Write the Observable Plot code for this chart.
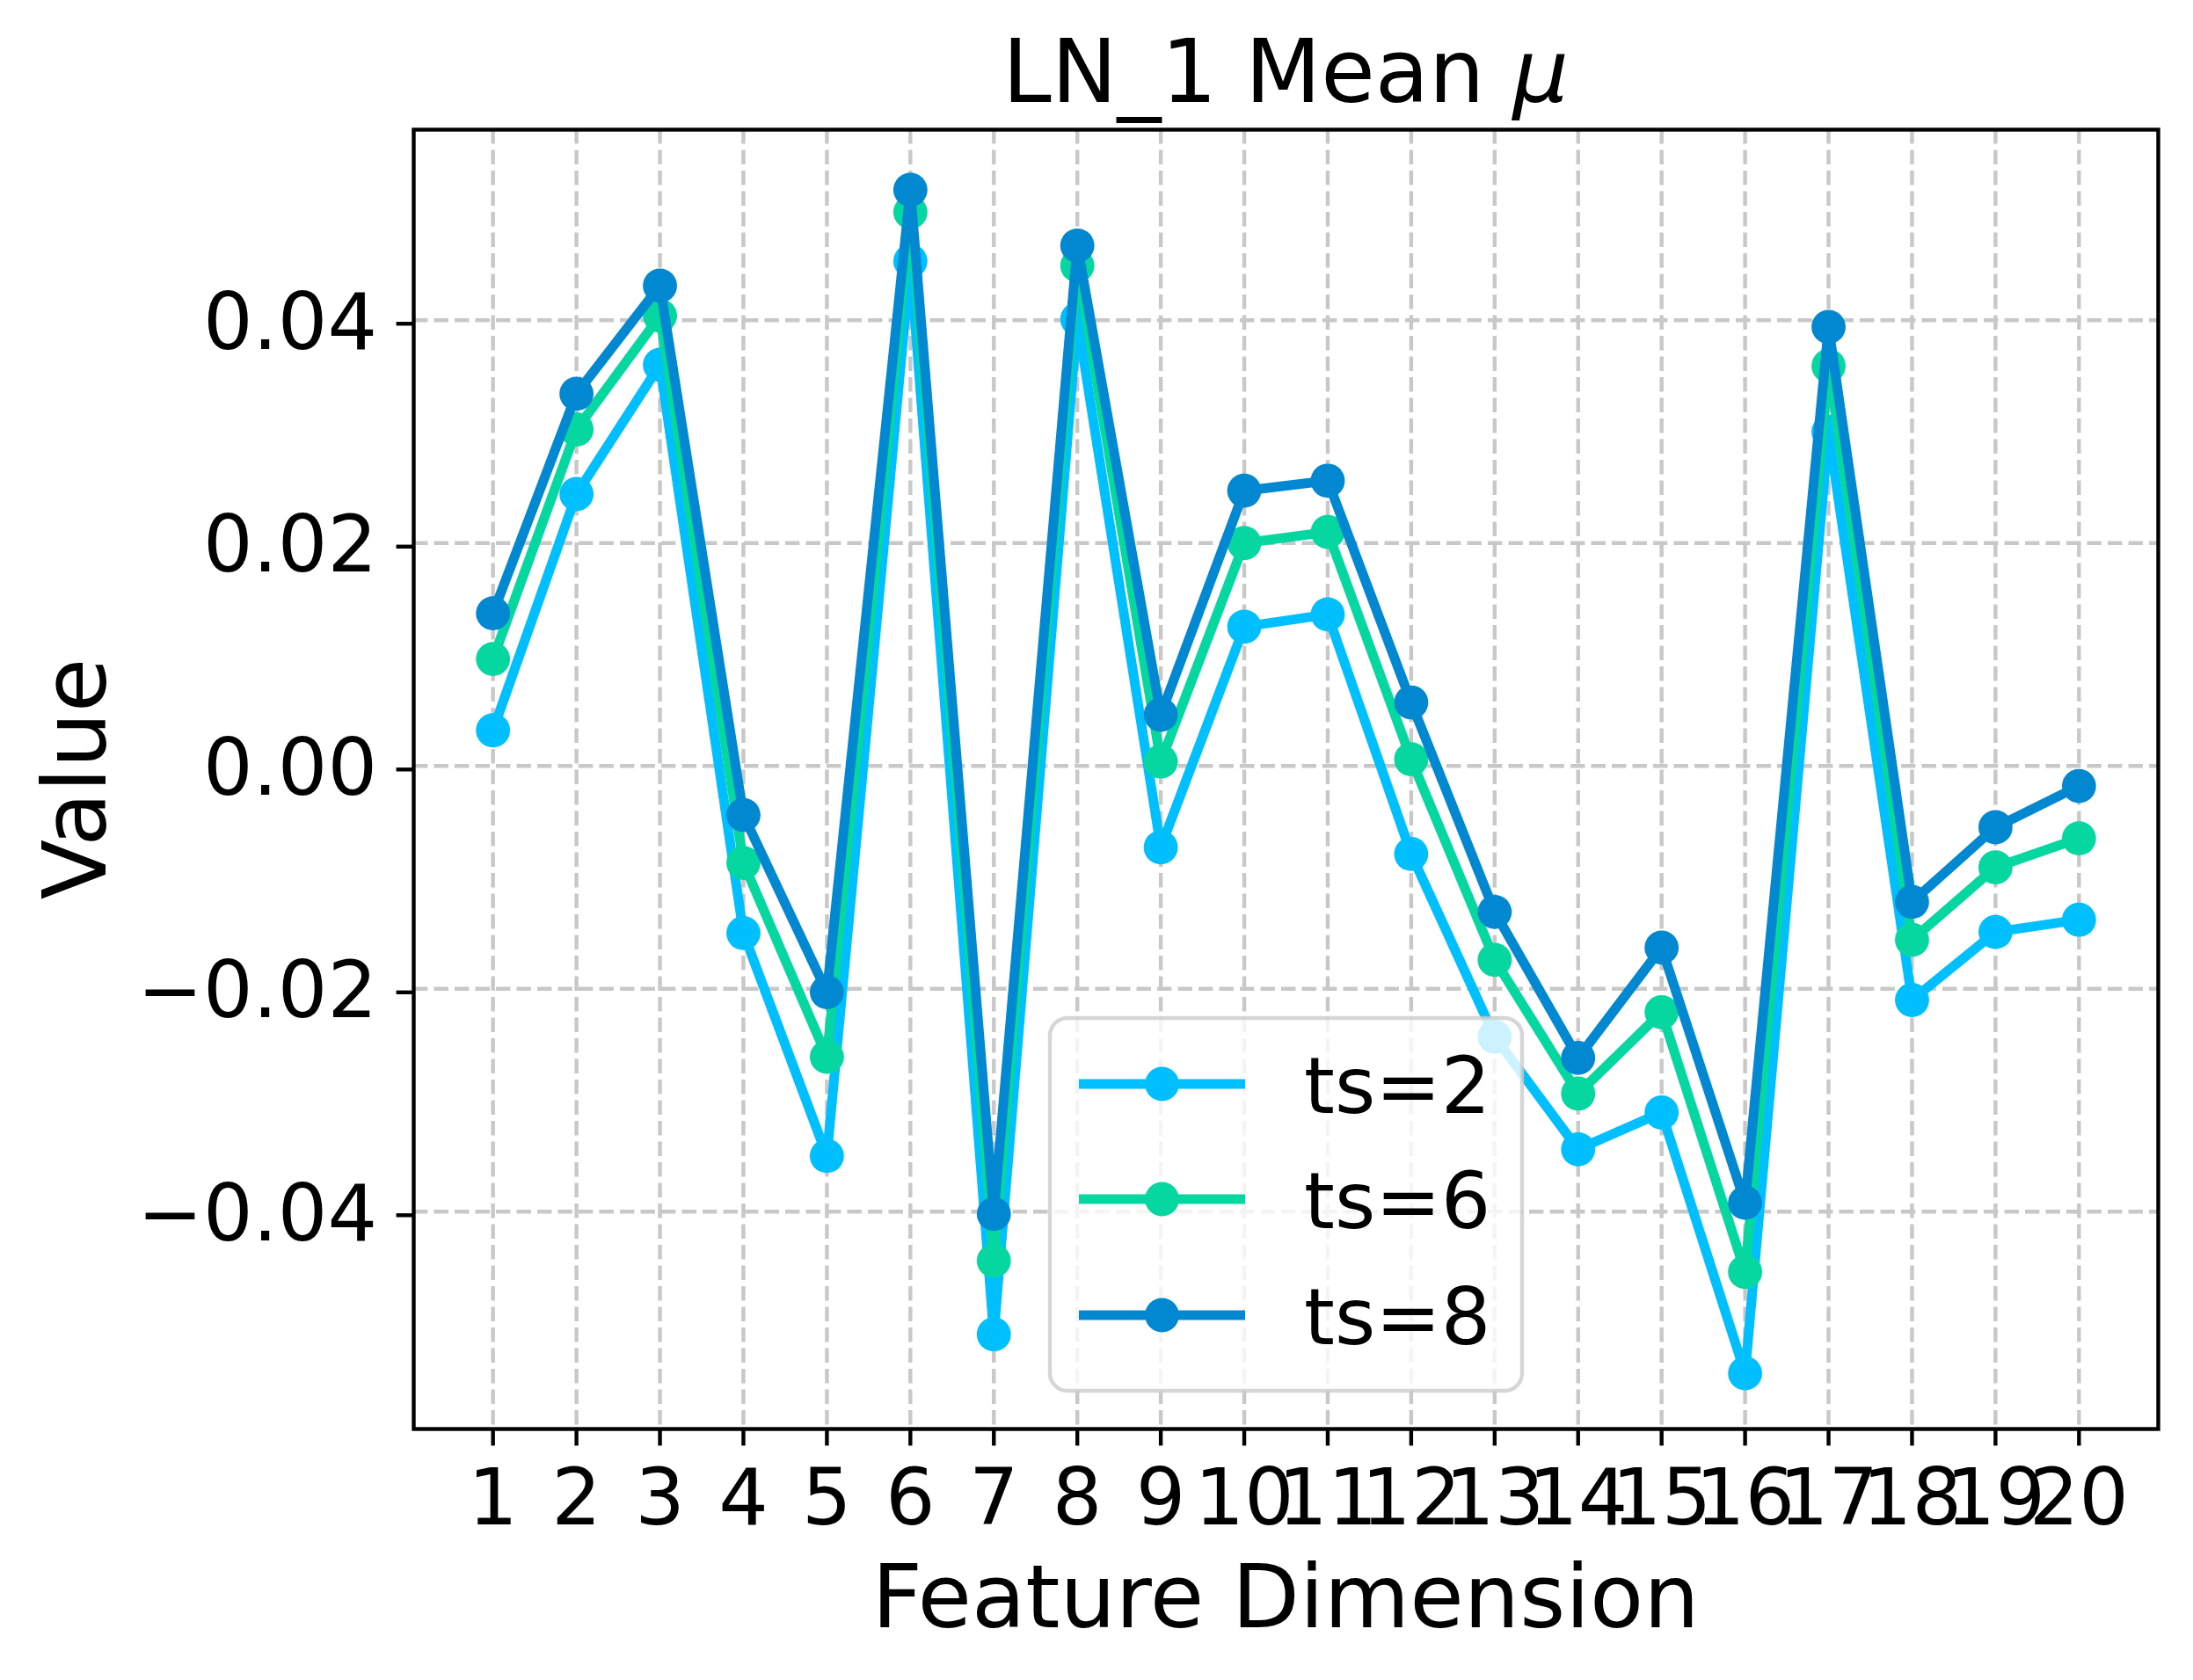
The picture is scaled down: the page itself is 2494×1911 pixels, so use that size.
<!DOCTYPE html>
<html>
<head>
<meta charset="utf-8">
<script src="https://cdn.jsdelivr.net/npm/d3@7"></script>
<script src="https://cdn.jsdelivr.net/npm/@observablehq/plot@0.6"></script>
<style>
  html, body { margin: 0; padding: 0; background: #ffffff; }
  #chart { width: 2494px; height: 1911px; }
</style>
</head>
<body>
<div id="chart"></div>
<script>
// ---- data ----
const features = [1,2,3,4,5,6,7,8,9,10,11,12,13,14,15,16,17,18,19,20];
const seriesNames = ["ts=2", "ts=6", "ts=8"];
const seriesColors = ["#00BFFF", "#06D6A0", "#0288D1"];
const ts2 = [0.0032, 0.0244, 0.0360, -0.0150, -0.0350, 0.0453, -0.0510, 0.0401, -0.0073, 0.0125,
             0.0136, -0.0079, -0.0243, -0.0344, -0.0311, -0.0545, 0.0300, -0.0210, -0.0149, -0.0138];
const ts6 = [0.0096, 0.0302, 0.0404, -0.0087, -0.0261, 0.0497, -0.0444, 0.0449, 0.0004, 0.0200,
             0.0210, 0.0006, -0.0174, -0.0294, -0.0221, -0.0454, 0.0359, -0.0156, -0.0091, -0.0065];
const ts8 = [0.0137, 0.0334, 0.0431, -0.0044, -0.0203, 0.0517, -0.0402, 0.0467, 0.0046, 0.0247,
             0.0256, 0.0057, -0.0131, -0.0262, -0.0163, -0.0392, 0.0394, -0.0122, -0.0055, -0.0018];
const yTicks = [-0.04, -0.02, 0.00, 0.02, 0.04];
const xTicks = features;
const titleMain = "LN_1 Mean ";
const titleMath = "μ";
const xLabel = "Feature Dimension";
const yLabel = "Value";

// ---- build ----
const seriesValues = [ts2, ts6, ts8];
const rows = seriesValues.map((vals, si) =>
  features.map((f, i) => ({feature: f, value: vals[i], series: seriesNames[si]})));

const W = 2494, H = 1911;
const mLeft = 470, mRight = W - 2454, mTop = 147, mBottom = H - 1625;
const lw = 11, markerR = 19.4, thin = 4.4;
const gridDash = "16.4,7.1";

const marks = [
  Plot.gridX(xTicks, {stroke: "#c8c8c8", strokeOpacity: 1, strokeWidth: thin, strokeDasharray: gridDash}),
  Plot.gridY(yTicks, {stroke: "#c8c8c8", strokeOpacity: 1, strokeWidth: thin, strokeDasharray: gridDash})
];
rows.forEach((data, si) => {
  marks.push(Plot.line(data, {x: "feature", y: "value", stroke: seriesColors[si], strokeWidth: lw,
                              strokeLinejoin: "round", strokeLinecap: "square"}));
  marks.push(Plot.dot(data, {x: "feature", y: "value", r: markerR, fill: seriesColors[si], stroke: "none"}));
});
marks.push(
  Plot.axisX({ticks: xTicks, tickFormat: d => String(d), tickSize: 19.4, tickPadding: 26,
              fontSize: 89, strokeWidth: thin, label: null}),
  Plot.axisY({ticks: yTicks, tickFormat: d3.format(".2f"), tickSize: 19.4, tickPadding: 22,
              fontSize: 89, strokeWidth: thin, dy: 4, label: null}),
  Plot.frame({stroke: "#000", strokeWidth: thin})
);

const svg = Plot.plot({
  width: W, height: H,
  marginLeft: mLeft, marginRight: mRight, marginTop: mTop, marginBottom: mBottom,
  style: {fontFamily: "'DejaVu Sans', sans-serif", color: "#000", background: "#fff", overflow: "visible"},
  x: {type: "linear", domain: [0.05, 20.95]},
  y: {type: "linear", domain: [-0.0595, 0.0571]},
  marks
});

const s = d3.select(svg);
const cx = (mLeft + (W - mRight)) / 2;
const cy = (mTop + (H - mBottom)) / 2;

// title
const t = s.append("text").attr("x", cx).attr("y", 116).attr("text-anchor", "middle")
  .attr("font-size", 100).attr("fill", "#000");
t.append("tspan").text(titleMain);
t.append("tspan").attr("font-style", "italic").text(titleMath);

// axis labels
s.append("text").attr("x", cx).attr("y", 1851).attr("text-anchor", "middle")
  .attr("font-size", 100).attr("fill", "#000").text(xLabel);
s.append("text").attr("transform", `translate(120,${cy}) rotate(-90)`).attr("text-anchor", "middle")
  .attr("font-size", 100).attr("fill", "#000").text(yLabel);

// legend
const lg = s.append("g");
lg.append("rect").attr("x", 1194).attr("y", 1158).attr("width", 537).attr("height", 424)
  .attr("rx", 20).attr("ry", 20)
  .attr("fill", "#fff").attr("fill-opacity", 0.8)
  .attr("stroke", "#cccccc").attr("stroke-opacity", 0.8).attr("stroke-width", thin);
const rowY = [1233, 1364, 1496];
seriesNames.forEach((name, i) => {
  lg.append("line").attr("x1", 1227).attr("x2", 1416).attr("y1", rowY[i]).attr("y2", rowY[i])
    .attr("stroke", seriesColors[i]).attr("stroke-width", lw);
  lg.append("circle").attr("cx", 1321.5).attr("cy", rowY[i]).attr("r", markerR).attr("fill", seriesColors[i]);
  lg.append("text").attr("x", 1483).attr("y", rowY[i] + 32.5).attr("text-anchor", "start")
    .attr("font-size", 89).attr("fill", "#000").text(name);
});

document.getElementById("chart").appendChild(svg);
</script>
</body>
</html>
